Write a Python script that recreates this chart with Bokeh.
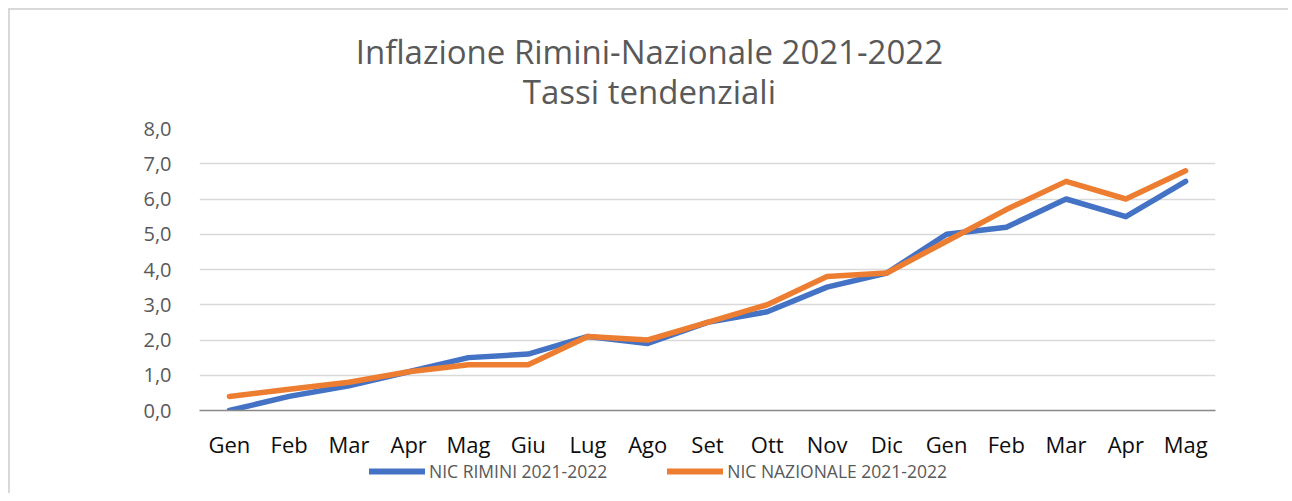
from bokeh.plotting import figure
from bokeh.layouts import column
from bokeh.models import FixedTicker, Label, Legend, LegendItem, ColumnDataSource
from bokeh.embed import file_html
from bokeh.resources import INLINE

months = ["Gen", "Feb", "Mar", "Apr", "Mag", "Giu", "Lug", "Ago", "Set", "Ott", "Nov", "Dic",
          "Gen", "Feb", "Mar", "Apr", "Mag"]
rimini = [0.0, 0.4, 0.7, 1.1, 1.5, 1.6, 2.1, 1.9, 2.5, 2.8, 3.5, 3.9, 5.0, 5.2, 6.0, 5.5, 6.5]
nazionale = [0.4, 0.6, 0.8, 1.1, 1.3, 1.3, 2.1, 2.0, 2.5, 3.0, 3.8, 3.9, 4.8, 5.7, 6.5, 6.0, 6.8]
y_ticks = [0, 1, 2, 3, 4, 5, 6, 7, 8]
series_names = ["NIC RIMINI 2021-2022", "NIC NAZIONALE 2021-2022"]
series_colors = ["#4472C4", "#ED7D31"]
title_lines = ["Inflazione Rimini-Nazionale 2021-2022", "Tassi tendenziali"]

FONT = "Open Sans"
GREY = "#595959"
BORDER = "2px solid #d9d9d9"
W = 1280
BL, BR = 189, 75   # common left/right borders of all strips

xs = list(range(len(months)))
src = ColumnDataSource(data=dict(x=xs, rimini=rimini, nazionale=nazionale))

# ---- title strip ----
tf = figure(width=W, height=104, output_backend="svg", toolbar_location=None,
            x_range=(199, 1213), y_range=(0, 102),
            min_border_left=BL, min_border_right=BR, min_border_top=0, min_border_bottom=0)
tf.styles = {"border-top": BORDER, "border-left": BORDER}
tf.axis.visible = False
tf.grid.grid_line_color = None
tf.outline_line_color = None
for txt, yy in zip(title_lines, [62, 23]):
    tf.add_layout(Label(x=648, y=yy, text=txt, text_align="center", text_baseline="middle",
                        text_font=FONT, text_font_size="33px", text_line_height=1.0,
                        text_color=GREY))

# ---- main chart ----
p = figure(width=W, height=349, output_backend="svg", toolbar_location=None,
           x_range=(-0.5, len(months) - 0.5), y_range=(0, 8),
           min_border_left=BL, min_border_right=BR, min_border_top=16, min_border_bottom=49)
p.styles = {"border-left": BORDER}
p.outline_line_color = None

p.line("x", "rimini", source=src, line_color=series_colors[0], line_width=5.5,
       line_cap="round", line_join="round")
p.line("x", "nazionale", source=src, line_color=series_colors[1], line_width=5.5,
       line_cap="round", line_join="round")

p.xaxis.ticker = FixedTicker(ticks=xs)
p.xaxis.major_label_overrides = {i: m for i, m in enumerate(months)}
p.xaxis.major_label_text_font = FONT
p.xaxis.major_label_text_font_size = "22px"
p.xaxis.major_label_text_line_height = 1.0
p.xaxis.major_label_text_color = "#0d0d0d"
p.xaxis.major_tick_line_color = None
p.xaxis.minor_tick_line_color = None
p.xaxis.axis_line_color = "#898989"
p.xaxis.axis_line_width = 1.5
p.xaxis.major_label_standoff = 12

p.yaxis.ticker = FixedTicker(ticks=y_ticks)
p.yaxis.major_label_overrides = {t: f"{t:.1f}".replace(".", ",") for t in y_ticks}
p.yaxis.major_label_text_font = FONT
p.yaxis.major_label_text_font_size = "20px"
p.yaxis.major_label_text_line_height = 1.0
p.yaxis.major_label_text_color = GREY
p.yaxis.major_tick_line_color = None
p.yaxis.minor_tick_line_color = None
p.yaxis.axis_line_color = None
p.yaxis.major_label_standoff = 22

p.xgrid.grid_line_color = None
p.ygrid.grid_line_color = "#d9d9d9"
p.ygrid.grid_line_width = 1.5

# ---- legend strip (its lines lie outside its visible range; only the legend shows) ----
lf = figure(width=W, height=32, output_backend="svg", toolbar_location=None,
            x_range=(-0.5, len(months) - 0.5), y_range=(-100, -99),
            min_border_left=BL, min_border_right=BR, min_border_top=0, min_border_bottom=6)
lf.styles = {"border-left": BORDER}
lf.axis.visible = False
lf.grid.grid_line_color = None
lf.outline_line_color = None
items = []
for name, col, field in zip(series_names, series_colors, ["rimini", "nazionale"]):
    r = lf.line("x", field, source=src, line_color=col, line_width=6, line_cap="round")
    items.append(LegendItem(label=name, renderers=[r]))
legend = Legend(items=items, orientation="horizontal", location=(170, 4),
                label_text_font=FONT, label_text_font_size="17.5px", label_text_color=GREY,
                glyph_width=56, glyph_height=16, label_standoff=4, spacing=60,
                border_line_color=None, background_fill_alpha=0, padding=0, margin=0)
lf.add_layout(legend, "center")

layout = column(tf, p, lf, spacing=0, margin=(8, 0, 0, 8))

open("out.html", "w").write(file_html(layout, INLINE))
